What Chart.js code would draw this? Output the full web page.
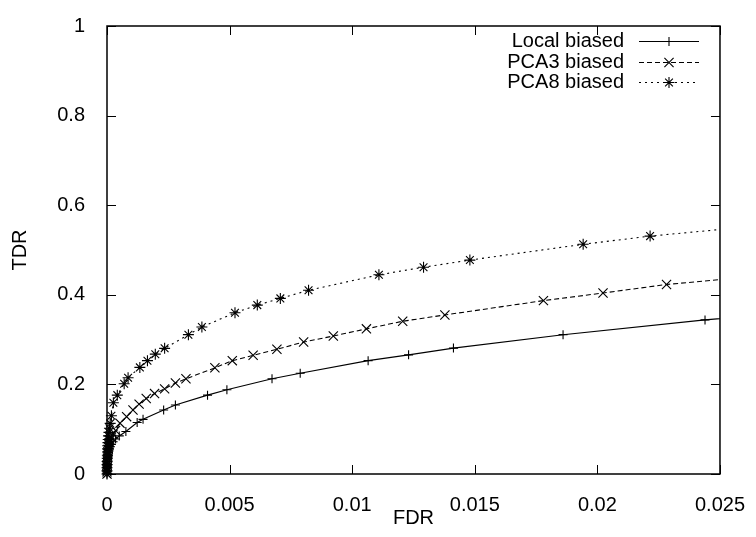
<!DOCTYPE html>
<html>
<head>
<meta charset="utf-8">
<script src="https://cdn.jsdelivr.net/npm/chart.js"></script>
<style>
  body { margin: 0; background: #fff; }
  canvas { display: block; }
</style>
</head>
<body>
<canvas id="rocChart" width="756" height="537"></canvas>
<script>
// FDR / TDR pairs (last point of each series sits just past the right edge)
const seriesNames = ['Local biased', 'PCA3 biased', 'PCA8 biased'];

const localX = [0, 0, 0, 0.000003, 0.000006, 0.00001, 0.000015, 0.00002, 0.000025, 0.00003, 0.00004, 0.00005,
    0.00006, 0.00008, 0.0001, 0.00013, 0.00018, 0.00025, 0.00035, 0.0005, 0.00077, 0.00123, 0.00147,
    0.00231, 0.00279, 0.0041, 0.00489, 0.00673, 0.00788, 0.01065, 0.0123, 0.01413, 0.0186, 0.02439, 0.0291];
const localY = [0, 0.004, 0.008, 0.012, 0.016, 0.02, 0.024, 0.028, 0.032, 0.036, 0.04, 0.044,
    0.048, 0.052, 0.056, 0.061, 0.066, 0.072, 0.078, 0.085, 0.095, 0.115, 0.122,
    0.143, 0.154, 0.176, 0.188, 0.2125, 0.225, 0.253, 0.266, 0.281, 0.311, 0.344, 0.366];

const pca3X = [0, 0, 0, 0.000003, 0.000006, 0.00001, 0.000015, 0.00002, 0.000025, 0.00003, 0.00004, 0.00005,
    0.00006, 0.00008, 0.0001, 0.00013, 0.00018, 0.00025, 0.00035, 0.00053, 0.0008, 0.00106, 0.00131,
    0.0016, 0.00194, 0.00235, 0.00279, 0.00322, 0.0044, 0.00511, 0.00596, 0.00693, 0.00802, 0.00923,
    0.01058, 0.01206, 0.01378, 0.0178, 0.02023, 0.02282, 0.0262];
const pca3Y = [0, 0.005, 0.01, 0.015, 0.02, 0.025, 0.03, 0.035, 0.04, 0.045, 0.05, 0.055,
    0.06, 0.065, 0.07, 0.076, 0.082, 0.089, 0.097, 0.1135, 0.128, 0.143, 0.156,
    0.1685, 0.1795, 0.19, 0.203, 0.2125, 0.237, 0.253, 0.265, 0.2785, 0.2945, 0.308,
    0.324, 0.341, 0.355, 0.387, 0.404, 0.423, 0.44];

const pca8X = [0, 0, 0, 0.000003, 0.000006, 0.00001, 0.000015, 0.00002, 0.000025, 0.00003, 0.00004, 0.00005,
    0.00006, 0.00008, 0.0001, 0.00013, 0.00018, 0.00026, 0.00042, 0.0007, 0.00086, 0.00134, 0.00165,
    0.00197, 0.00235, 0.00332, 0.00387, 0.00522, 0.00613, 0.00707, 0.00822, 0.01109, 0.01291, 0.0148,
    0.01942, 0.02215, 0.0268];
const pca8Y = [0, 0.007, 0.014, 0.021, 0.028, 0.035, 0.042, 0.049, 0.056, 0.063, 0.07, 0.077,
    0.085, 0.093, 0.102, 0.113, 0.13, 0.159, 0.176, 0.2015, 0.2147, 0.238, 0.253,
    0.2675, 0.2805, 0.311, 0.328, 0.36, 0.377, 0.392, 0.41, 0.4446, 0.4615, 0.4775,
    0.5128, 0.531, 0.555];

const xTicks = [0, 0.005, 0.01, 0.015, 0.02, 0.025];
const yTicks = [0, 0.2, 0.4, 0.6, 0.8, 1];

const FONT = "'Liberation Sans', Arial, Helvetica, sans-serif";
const FONT_SIZE = 20;
const fmt = v => String(+Number(v).toFixed(4));
const pairs = (xs, ys) => xs.map((x, i) => ({ x: x, y: ys[i] }));

function drawMarker(ctx, style, x, y, r) {
    ctx.beginPath();
    if (style === 'cross' || style === 'star') {
        ctx.moveTo(x - r, y); ctx.lineTo(x + r, y);
        ctx.moveTo(x, y - r); ctx.lineTo(x, y + r);
    }
    if (style === 'crossRot' || style === 'star') {
        const d = r * Math.SQRT1_2;
        ctx.moveTo(x - d, y - d); ctx.lineTo(x + d, y + d);
        ctx.moveTo(x - d, y + d); ctx.lineTo(x + d, y - d);
    }
    ctx.stroke();
}

// gnuplot-style frame with inward ticks and a right-aligned key
const framePlugin = {
    id: 'frame',
    afterDraw(chart) {
        const { ctx, chartArea: a, scales } = chart;
        const tl = 9;
        ctx.save();
        ctx.strokeStyle = '#000';
        ctx.lineWidth = 1.5;
        ctx.setLineDash([]);
        ctx.strokeRect(a.left, a.top, a.right - a.left, a.bottom - a.top);
        ctx.lineWidth = 1;
        ctx.beginPath();
        scales.x.ticks.forEach(t => {
            const px = Math.round(scales.x.getPixelForValue(t.value)) + 0.5;
            ctx.moveTo(px, a.bottom); ctx.lineTo(px, a.bottom - tl);
            ctx.moveTo(px, a.top); ctx.lineTo(px, a.top + tl);
        });
        scales.y.ticks.forEach(t => {
            const py = Math.round(scales.y.getPixelForValue(t.value)) + 0.5;
            ctx.moveTo(a.left, py); ctx.lineTo(a.left + tl, py);
            ctx.moveTo(a.right, py); ctx.lineTo(a.right - tl, py);
        });
        ctx.stroke();

        // key
        ctx.font = FONT_SIZE + 'px ' + FONT;
        ctx.fillStyle = '#000';
        ctx.textAlign = 'right';
        ctx.textBaseline = 'middle';
        const textRight = 624, lineStart = 639, lineEnd = 699, rowTop = 41, rowStep = 20.7;
        chart.data.datasets.forEach((ds, i) => {
            const y = Math.round(rowTop + i * rowStep) + 0.5;
            ctx.fillText(ds.label, textRight, y);
            ctx.strokeStyle = '#000';
            ctx.lineWidth = 1.1;
            ctx.setLineDash(ds.borderDash || []);
            ctx.beginPath();
            ctx.moveTo(lineStart, y); ctx.lineTo(lineEnd, y);
            ctx.stroke();
            ctx.setLineDash([]);
            drawMarker(ctx, ds.pointStyle, (lineStart + lineEnd) / 2, y, ds.pointRadius);
        });
        ctx.restore();
    }
};

new Chart(document.getElementById('rocChart'), {
    type: 'scatter',
    data: {
        datasets: [
            { label: seriesNames[0], data: pairs(localX, localY), borderDash: [], pointStyle: 'cross', pointRadius: 4.5 },
            { label: seriesNames[1], data: pairs(pca3X, pca3Y), borderDash: [5, 3], pointStyle: 'crossRot', pointRadius: 6.5 },
            { label: seriesNames[2], data: pairs(pca8X, pca8Y), borderDash: [2, 4], pointStyle: 'star', pointRadius: 5.5 }
        ].map(ds => ({
            ...ds,
            showLine: true,
            borderColor: '#000',
            backgroundColor: '#000',
            borderWidth: 1.1,
            pointBorderWidth: 1.1,
            pointBorderColor: '#000',
            tension: 0,
            clip: { left: 8, right: 0, top: 0, bottom: 8 }
        }))
    },
    options: {
        responsive: false,
        animation: false,
        layout: { padding: { top: 19, right: 32, left: 0, bottom: 0 } },
        plugins: { legend: { display: false }, tooltip: { enabled: false } },
        scales: {
            x: {
                type: 'linear',
                min: 0,
                max: 0.025,
                afterBuildTicks: s => { s.ticks = xTicks.map(v => ({ value: v })); },
                afterFit: s => { s.height = 63; },
                grid: { display: false },
                border: { display: false },
                ticks: { color: '#000', font: { family: FONT, size: FONT_SIZE }, padding: 11, maxRotation: 0, callback: fmt },
                title: { display: true, text: 'FDR', color: '#000', font: { family: FONT, size: FONT_SIZE }, padding: { top: 7, bottom: 7 } }
            },
            y: {
                type: 'linear',
                min: 0,
                max: 1,
                afterBuildTicks: s => { s.ticks = yTicks.map(v => ({ value: v })); },
                afterFit: s => { s.width = 107; },
                grid: { display: false },
                border: { display: false },
                ticks: { color: '#000', font: { family: FONT, size: FONT_SIZE }, padding: 14, callback: fmt },
                title: { display: true, text: 'TDR', color: '#000', font: { family: FONT, size: FONT_SIZE }, padding: { top: 8, bottom: 8 } }
            }
        }
    },
    plugins: [framePlugin]
});
</script>
</body>
</html>
